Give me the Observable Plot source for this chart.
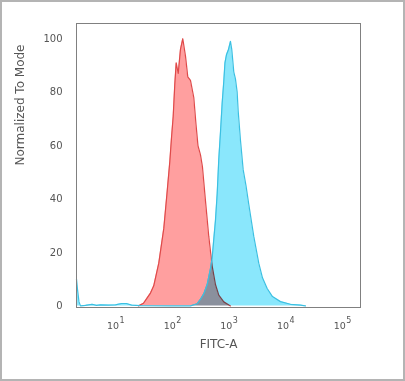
<!DOCTYPE html>
<html><head><meta charset="utf-8">
<script src="https://cdn.jsdelivr.net/npm/d3@7"></script>
<script src="https://cdn.jsdelivr.net/npm/@observablehq/plot@0.6"></script>
<style>
html,body{margin:0;padding:0;background:#fff;}
#wrap{position:relative;width:405px;height:381px;overflow:hidden;background:#fff;}
#wrap svg{position:absolute;left:0;top:0;}
#border{position:absolute;left:0;top:0;width:405px;height:381px;box-sizing:border-box;border:2px solid #b4b4b4;pointer-events:none;}
</style></head><body><div id="wrap"><div id="border"></div></div>
<script>
// Red histogram (control): FITC-A value and normalized-to-mode count
const redX = [25.5, 31.2, 36.2, 41.4, 47.3, 58.0, 71.1, 81.7, 90.8, 97.3, 104.2, 111.2, 117.7, 127.7, 140.0, 153.8, 171.7, 188.4, 210.2, 240.4, 263, 285, 315.6, 342, 386, 442, 507, 580, 664, 813, 1067];
const redY = [0, 1.0, 3.0, 4.8, 7.5, 16, 29, 43, 54, 63, 71, 83, 91, 87, 96, 100, 93.5, 85.7, 84.4, 78, 68, 60, 56.5, 52, 39.5, 26, 15, 8, 4, 1.5, 0];
// Blue histogram (stained)
const blueX = [2.05, 2.14, 2.27, 2.41, 2.96, 3.88, 4.62, 5.44, 7.53, 10, 12.8, 15.6, 19.2, 27.6, 93.3, 210, 276, 316, 361, 414, 474, 507, 542, 580, 622, 664, 711, 762, 813, 853, 907, 985, 1067, 1124, 1181, 1220, 1306, 1400, 1459, 1602, 1787, 2004, 2245, 2750, 3367, 3917, 4740, 5880, 8130, 12190, 18320, 22440];
const blueY = [10, 6, 1.5, 0, 0.2, 0.6, 0.2, 0.4, 0.3, 0.4, 0.9, 0.9, 0.3, 0.1, 0, 0, 0.8, 2.5, 4.5, 8, 14, 18, 25, 32, 42, 55, 65, 76, 84, 91, 94, 96, 99, 96, 91, 87.6, 85, 80, 73, 62, 51, 45, 38, 26, 16, 10.5, 6.5, 3.5, 1.6, 0.6, 0.3, 0];
const yTicks = [0, 20, 40, 60, 80, 100];
const xTicks = [10, 100, 1000, 10000, 100000];
const xTickBase = "10";
const xTickExponents = ["1", "2", "3", "4", "5"];
const xTitle = "FITC-A";
const yTitle = "Normalized To Mode";

const red = redX.map((x, i) => ({x, y: redY[i]}));
const blue = blueX.map((x, i) => ({x, y: blueY[i]}));
const xt = xTicks.map((v, i) => ({v, e: xTickExponents[i]}));

const chart = Plot.plot({
  width: 405,
  height: 381,
  marginLeft: 76,
  marginRight: 45,
  marginTop: 23,
  marginBottom: 74,
  style: {fontFamily: "DejaVu Sans, sans-serif", fontSize: "10px", color: "#555", background: "transparent"},
  x: {type: "log", domain: [2.05, 2.1e5], axis: null},
  y: {domain: [-0.6, 105.7]},
  marks: [
    Plot.areaY(red, {x: "x", y: "y", fill: "#ff9f9f"}),
    Plot.lineY(red, {x: "x", y: "y", stroke: "#df4a4a", strokeWidth: 1.2}),
    Plot.areaY(blue, {x: "x", y: "y", fill: "#8ae7fc", mixBlendMode: "multiply"}),
    Plot.lineY(blue, {x: "x", y: "y", stroke: "#3cc0e2", strokeWidth: 1.2}),
    Plot.frame({stroke: "#808080"}),
    Plot.axisY({ticks: yTicks, tickSize: 0, tickPadding: 14, label: null, fill: "#555"}),
    Plot.text(xt, {x: "v", text: () => xTickBase, frameAnchor: "bottom", dx: -2.5, dy: 21, fontSize: 9.5, fill: "#555"}),
    Plot.text(xt, {x: "v", text: "e", frameAnchor: "bottom", textAnchor: "start", dx: 4, dy: 15, fontSize: 8, fill: "#555"}),
    Plot.text([xTitle], {text: d => d, frameAnchor: "bottom", dy: 40, fontSize: 12, fill: "#555"}),
    Plot.text([yTitle], {text: d => d, frameAnchor: "left", dx: -56, rotate: -90, fontSize: 12, fill: "#555"})
  ]
});
document.getElementById("wrap").insertBefore(chart, document.getElementById("border"));
</script>
</body></html>
